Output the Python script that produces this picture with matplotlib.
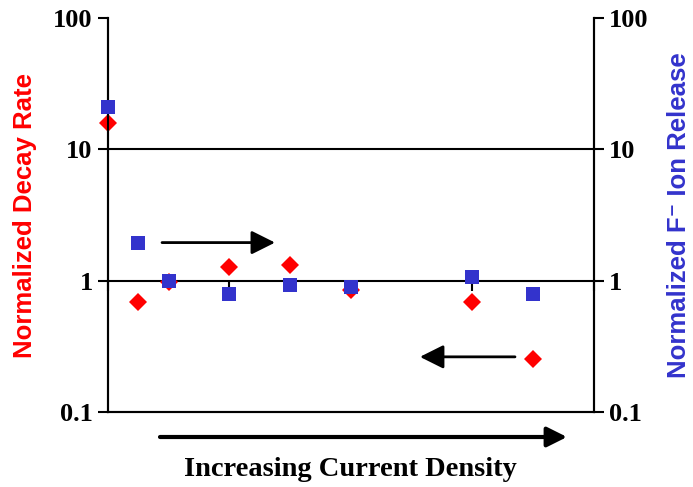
import matplotlib
matplotlib.use("Agg")
import matplotlib.pyplot as plt

# current density steps (relative units) and the two normalized responses
density = [0, 1, 2, 4, 6, 8, 12, 14]
decay_rate = [16, 0.69, 0.98, 1.28, 1.32, 0.85, 0.69, 0.254]
f_release = [21, 1.95, 1.0, 0.79, 0.93, 0.9, 1.07, 0.79]
yticks = [0.1, 1, 10, 100]
ytick_labels = ["0.1", "1", "10", "100"]

red = "#FF0000"
blue = "#3333CC"
serif = "Liberation Serif"

fig = plt.figure(figsize=(6.93, 4.87), dpi=100)
ax = fig.add_axes([0.1558, 0.154, 0.7013, 0.809])
ax2 = ax.twinx()

for a in (ax, ax2):
    a.set_yscale("log")
    a.set_ylim(0.1, 100)
    a.set_xlim(0, 16)
    a.set_yticks(yticks)
    a.set_yticklabels(ytick_labels, fontfamily=serif, fontweight="bold", fontsize=19)
    a.yaxis.set_minor_locator(matplotlib.ticker.NullLocator())
    a.tick_params(axis="y", which="both", direction="out", length=7, width=1.5, pad=4)
    a.tick_params(axis="x", bottom=False, labelbottom=False, top=False)
    a.spines["top"].set_visible(False)
    for s in ("left", "right", "bottom"):
        a.spines[s].set_linewidth(1.5)

# gridlines at 1 and 10 only
for g in (1, 10):
    ax.axhline(g, color="black", lw=1.5, zorder=1)

# secondary x axis riding on the y=1 line, ticks only
sec = ax.secondary_xaxis(1 / 3)
sec.set_xticks([0, 4, 8, 12, 16])
sec.set_xticklabels([])
sec.xaxis.set_ticks_position("bottom")
sec.tick_params(direction="out", length=7, width=1.5)
sec.spines["bottom"].set_visible(False)
sec.spines["top"].set_visible(False)

ax.plot(density, decay_rate, linestyle="none", marker="D", ms=9, color=red,
        markeredgewidth=0, clip_on=False, zorder=3)
ax2.plot(density, f_release, linestyle="none", marker="s", ms=10, color=blue,
         markeredgewidth=0, clip_on=False, zorder=3)

ax.set_ylabel("Normalized Decay Rate", color=red, fontfamily="Liberation Sans",
              fontweight="bold", fontsize=18.5, labelpad=12)
ax2.set_ylabel("Normalized F\u207b Ion Release", color=blue,
               fontfamily=["Liberation Sans", "DejaVu Sans"],
               fontweight="bold", fontsize=18.5, labelpad=13)

# arrows pointing at the axis each series belongs to
head = dict(arrowstyle="-|>,head_width=0.36,head_length=0.72", color="black",
            lw=2, mutation_scale=20, shrinkA=0, shrinkB=0)
ax2.annotate("", xy=(5.5, 1.95), xytext=(1.78, 1.95), arrowprops=head)
ax.annotate("", xy=(10.27, 0.263), xytext=(13.4, 0.263), arrowprops=head)

big = dict(arrowstyle="-|>,head_width=0.3,head_length=0.6", color="black",
           lw=3, mutation_scale=20, shrinkA=0, shrinkB=0)
ax.annotate("", xy=(567 / 693, 1 - 437 / 487), xytext=(160 / 693, 1 - 437 / 487),
            xycoords="figure fraction", textcoords="figure fraction",
            arrowprops=big, annotation_clip=False)
fig.text(350 / 693, 1 - 469 / 487, "Increasing Current Density", ha="center",
         va="center", fontfamily=serif, fontweight="bold", fontsize=20.5)

fig.savefig("out.png", dpi=100)
